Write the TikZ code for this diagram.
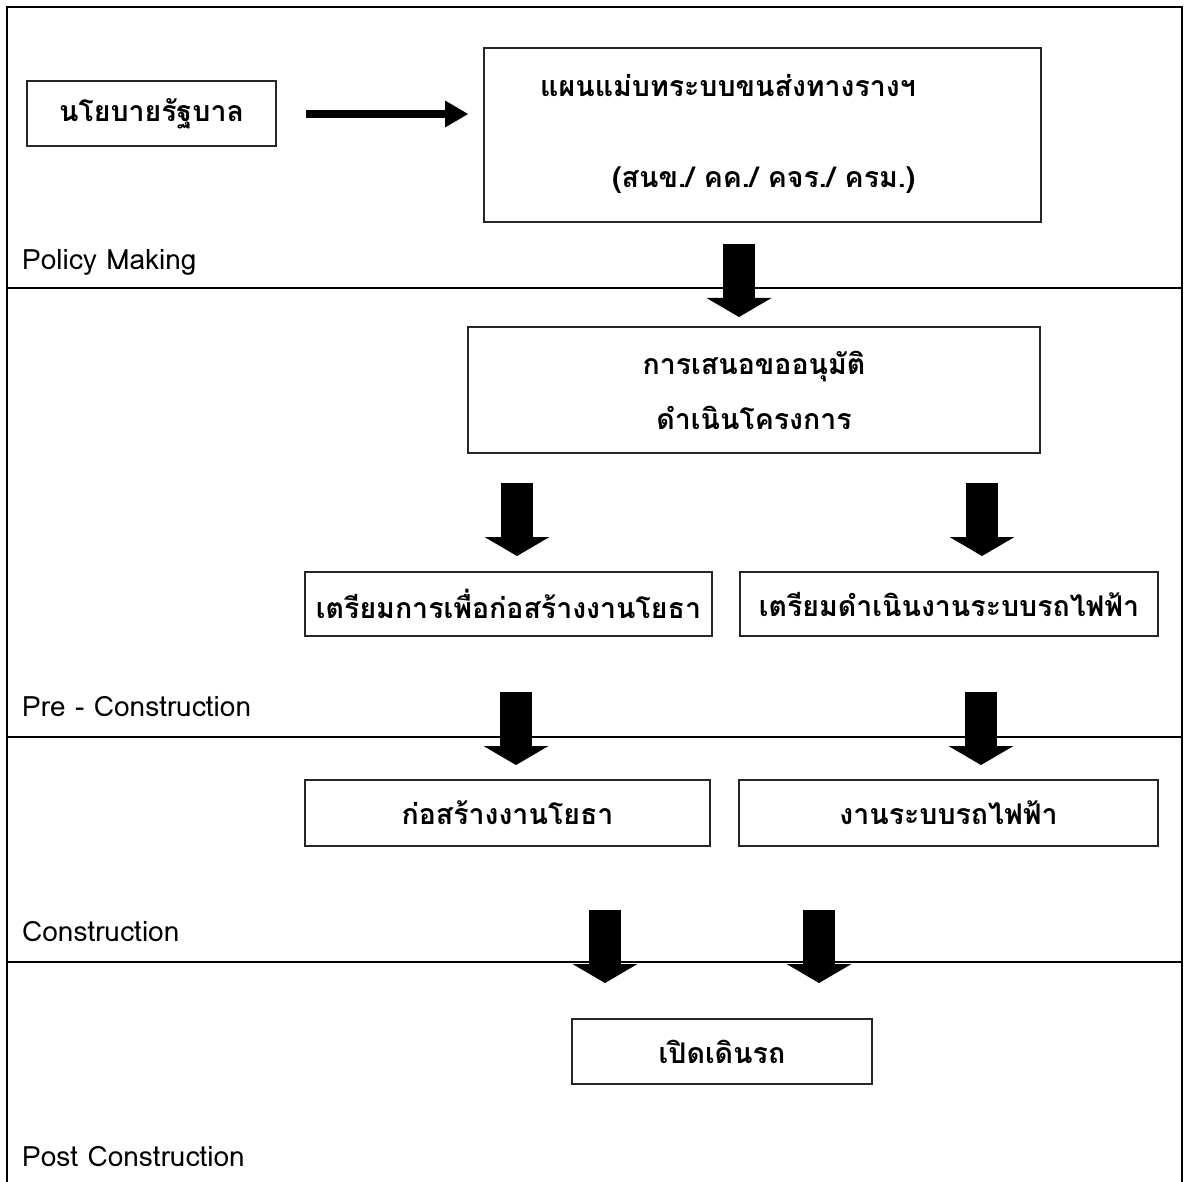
\documentclass[tikz,border=0pt]{standalone}
\usepackage{fontspec}
\setmainfont{Loma}[Script=Thai]
\usetikzlibrary{arrows.meta}
\newcommand{\thaibox}{\fontsize{28.5}{32}\selectfont\bfseries}
\newcommand{\thaiboxtall}{\fontsize{28.5}{55}\selectfont\bfseries}
\newcommand{\lanefont}{\fontsize{28}{32}\selectfont}
\begin{document}
\begin{tikzpicture}[x=1pt,y=-1pt,
  box/.style={draw=black!85, line width=1.3pt, inner sep=0pt, font=\thaibox},
  boxtext/.style={anchor=west, inner sep=0pt, font=\thaibox},
  lane/.style={anchor=west, inner sep=0pt, font=\lanefont},
  frame/.style={line width=2pt},
  sep/.style={line width=1.6pt},
  fat/.style={line width=32pt, -{Triangle[width=65pt,length=19pt,line width=0pt]}},
  thinarrow/.style={line width=8pt, -{Triangle[width=27pt,length=23pt,line width=0pt]}}]
\useasboundingbox (0,0) rectangle (1186,1182);
% frame and lanes
\draw[frame] (7,1182) -- (7,7) -- (1182,7) -- (1182,1182);
\draw[sep] (7,288) -- (1182,288);
\draw[sep] (7,737) -- (1182,737);
\draw[sep] (7,962) -- (1182,962);
\node[lane] (l1) at (22,262) {Policy Making};
\node[lane] (l2) at (22,707) {Pre - Construction};
\node[lane] (l3) at (22,932) {Construction};
\node[lane] (l4) at (22,1157) {Post Construction};
% boxes
\node[box, minimum width=249pt, minimum height=65pt] (b1) at (151.5,113.5) {นโยบายรัฐบาล};
\node[box, minimum width=557pt, minimum height=174pt] (b2) at (762.5,135) {};
\node[boxtext] (t2a) at (540,86) {แผนแม่บทระบบขนส่งทางรางฯ};
\node[boxtext] (t2b) at (612,180) {(สนข./ คค./ คจร./ ครม.)};
\node[box, minimum width=572pt, minimum height=126pt, align=center, font=\thaiboxtall] (b3) at (754,390) {การเสนอขออนุมัติ\\ดำเนินโครงการ};
\node[box, minimum width=407pt, minimum height=64pt] (b4) at (508.5,604) {เตรียมการเพื่อก่อสร้างงานโยธา};
\node[box, minimum width=418pt, minimum height=64pt] (b5) at (949,604) {เตรียมดำเนินงานระบบรถไฟฟ้า};
\node[box, minimum width=405pt, minimum height=66pt] (b6) at (507.5,813) {ก่อสร้างงานโยธา};
\node[box, minimum width=419pt, minimum height=66pt] (b7) at (948.5,813) {งานระบบรถไฟฟ้า};
\node[box, minimum width=300pt, minimum height=65pt] (b8) at (722,1051.5) {เปิดเดินรถ};
% arrow end points
\coordinate (h0s) at (306,114); \coordinate (h0e) at (468,114);
\coordinate (a1s) at (739,244); \coordinate (a1e) at (739,317);
\coordinate (a2s) at (517,483); \coordinate (a2e) at (517,556);
\coordinate (a3s) at (982,483); \coordinate (a3e) at (982,556);
\coordinate (a4s) at (516,692); \coordinate (a4e) at (516,765);
\coordinate (a5s) at (981,692); \coordinate (a5e) at (981,765);
\coordinate (a6s) at (605,910); \coordinate (a6e) at (605,983);
\coordinate (a7s) at (819,910); \coordinate (a7e) at (819,983);
% arrows
\draw[thinarrow] (h0s) -- (h0e);
\draw[fat] (a1s) -- (a1e);
\draw[fat] (a2s) -- (a2e);
\draw[fat] (a3s) -- (a3e);
\draw[fat] (a4s) -- (a4e);
\draw[fat] (a5s) -- (a5e);
\draw[fat] (a6s) -- (a6e);
\draw[fat] (a7s) -- (a7e);
\end{tikzpicture}
\end{document}
